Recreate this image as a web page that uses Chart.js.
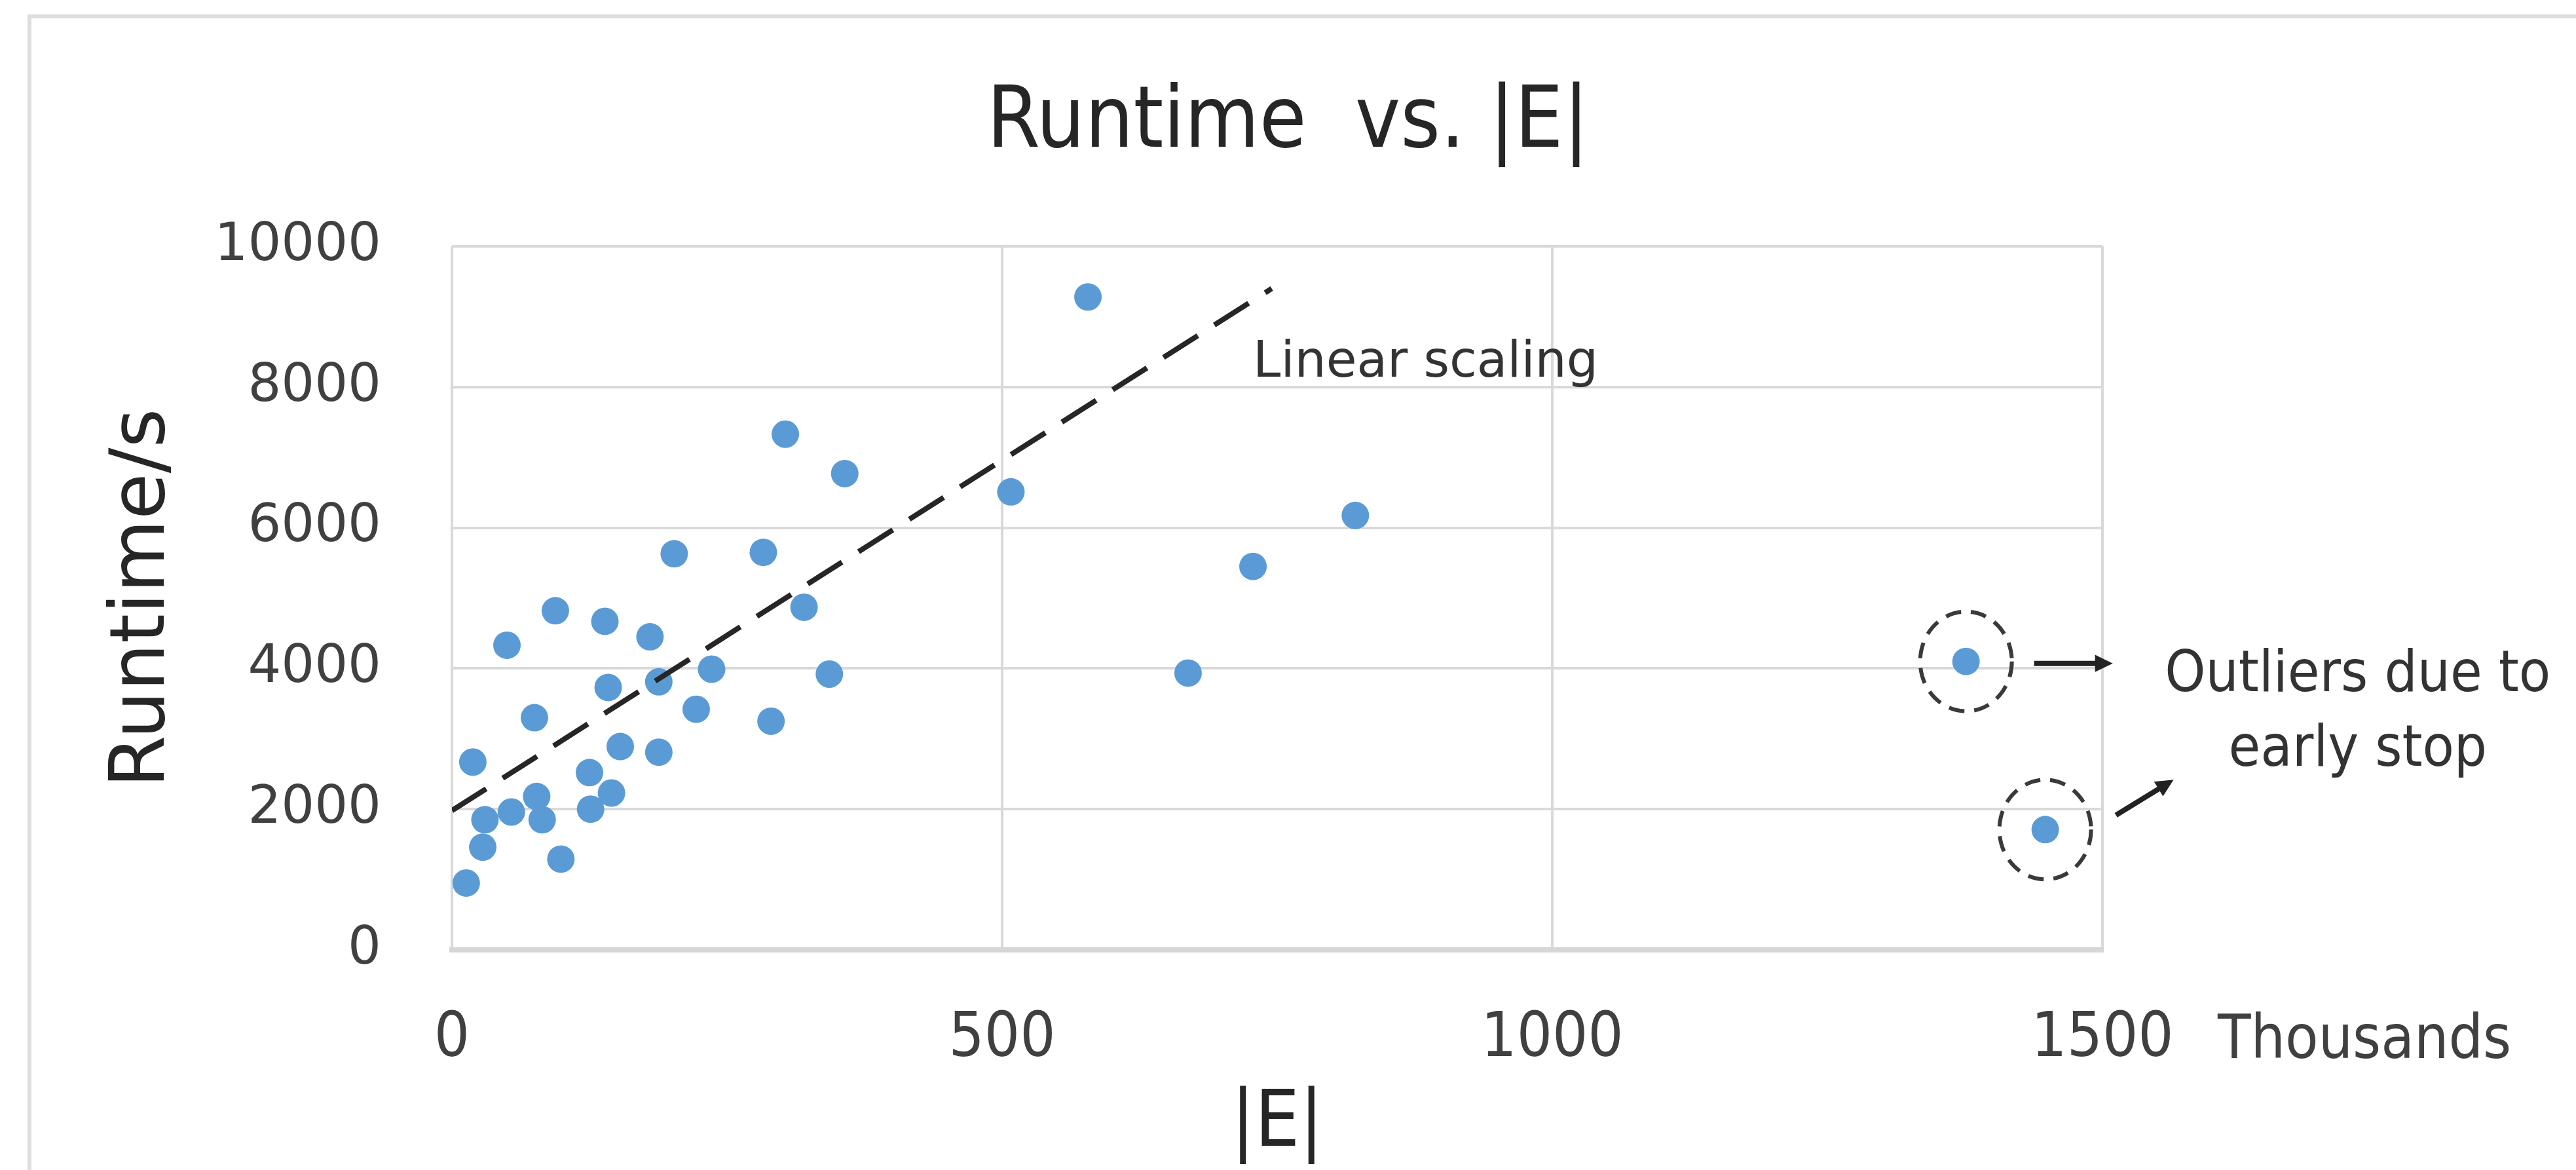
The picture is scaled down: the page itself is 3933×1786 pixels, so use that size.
<!DOCTYPE html>
<html>
<head>
<meta charset="utf-8">
<script src="https://cdn.jsdelivr.net/npm/chart.js@4.4.1/dist/chart.umd.min.js"></script>
<style>
    html, body { margin: 0; padding: 0; background: #fff; overflow: hidden; }
    #wrap { position: absolute; left: 0; top: 0; width: 3933px; height: 1786px; }
    #frame { position: absolute; left: 42px; top: 22px; right: -20px; bottom: -20px; border-left: 6px solid #dedede; border-top: 6px solid #dedede; pointer-events: none; }
</style>
</head>
<body>
<div id="wrap">
    <canvas id="chart1" width="3933" height="1786"></canvas>
    <div id="frame"></div>
</div>
<script>
// |E| in thousands, runtime in seconds
const edgesK = [578, 303, 357, 508, 821, 202, 283, 728, 94, 139, 320, 50, 180, 236, 343, 669, 142, 188, 75, 222, 290, 19, 153, 188, 125, 145, 126, 77, 82, 54, 30, 28, 99, 13]
const runtimeS = [9280, 7330, 6770, 6510, 6175, 5630, 5650, 5450, 4820, 4670, 4870, 4330, 4450, 3990, 3920, 3935, 3730, 3810, 3300, 3420, 3250, 2670, 2890, 2810, 2520, 2230, 2000, 2180, 1850, 1960, 1850, 1460, 1290, 950]

const outlierEdgesK = [1376, 1448]
const outlierRuntimeS = [4100, 1710]

const trendEdgesK = [0, 745]
const trendRuntimeS = [1980, 9400]

const xTicks = [0, 500, 1000, 1500]
const yTicks = [0, 2000, 4000, 6000, 8000, 10000]

const narrow = '"Liberation Sans Narrow", "DejaVu Sans Condensed", "Liberation Sans", sans-serif'
const wide = '"DejaVu Sans", Verdana, sans-serif'
const blue = '#5b9bd5'

const toPoints = (xs, ys) => xs.map((x, i) => ({ x, y: ys[i] }))


function drawArrow(ctx, x1, y1, x2, y2) {
    const ang = Math.atan2(y2 - y1, x2 - x1)
    const head = 30
    ctx.beginPath()
    ctx.moveTo(x1, y1)
    ctx.lineTo(x2 - Math.cos(ang) * head * 0.8, y2 - Math.sin(ang) * head * 0.8)
    ctx.stroke()
    ctx.beginPath()
    ctx.moveTo(x2, y2)
    ctx.lineTo(x2 - head * Math.cos(ang - 0.45), y2 - head * Math.sin(ang - 0.45))
    ctx.lineTo(x2 - head * Math.cos(ang + 0.45), y2 - head * Math.sin(ang + 0.45))
    ctx.closePath()
    ctx.fill()
}


const annotations = {
    id: 'annotations',
    afterDatasetsDraw(chart) {
        const { ctx, scales: { x, y }, chartArea } = chart
        ctx.save()

        // dashed rings round the outliers
        const meta = chart.getDatasetMeta(2)
        ctx.strokeStyle = '#3a3a3a'
        ctx.lineWidth = 6
        ctx.setLineDash([24, 15])
        meta.data.forEach(pt => {
            ctx.beginPath()
            ctx.ellipse(pt.x, pt.y, 70, 76, 0, 0, Math.PI * 2)
            ctx.stroke()
        })
        ctx.setLineDash([])

        // arrows
        ctx.strokeStyle = '#222'
        ctx.fillStyle = '#222'
        ctx.lineWidth = 8
        const [p1, p2] = meta.data
        drawArrow(ctx, p1.x + 104, p1.y + 3, p1.x + 224, p1.y + 3)
        drawArrow(ctx, p2.x + 108, p2.y - 22, p2.x + 196, p2.y - 76)

        // texts
        ctx.fillStyle = '#333'
        ctx.textBaseline = 'middle'
        ctx.textAlign = 'left'
        ctx.font = '76px ' + wide
        ctx.fillText('Linear scaling', x.getPixelForValue(728), y.getPixelForValue(8330))

        ctx.textAlign = 'center'
        ctx.font = '88px ' + narrow
        ctx.fillText('Outliers due to', x.getPixelForValue(1732), y.getPixelForValue(3890))
        ctx.fillText('early stop', x.getPixelForValue(1732), y.getPixelForValue(2830))

        ctx.textAlign = 'left'
        ctx.fillStyle = '#404040'
        ctx.font = '92px ' + narrow
        ctx.fillText('Thousands', x.getPixelForValue(1500) + 176, chartArea.bottom + 141)

        ctx.restore()
    }
}


const data = {
    datasets: [
        {
            type: 'line',
            data: toPoints(trendEdgesK, trendRuntimeS),
            borderColor: '#262626',
            borderWidth: 8,
            borderDash: [62, 30],
            pointRadius: 0,
            fill: false,
            order: 0
        },
        {
            data: toPoints(edgesK, runtimeS),
            backgroundColor: blue,
            borderWidth: 0,
            pointRadius: 21,
            order: 1
        },
        {
            data: toPoints(outlierEdgesK, outlierRuntimeS),
            backgroundColor: blue,
            borderWidth: 0,
            pointRadius: 21,
            order: 1
        }
    ]
}

const options = {
    responsive: false,
    animation: false,
    devicePixelRatio: 1,
    layout: {
        padding: 0
    },
    plugins: {
        legend: { display: false },
        tooltip: { enabled: false },
        title: {
            display: true,
            text: 'Runtime  vs. |E|',
            color: '#262626',
            font: { family: narrow, size: 130, weight: 'normal', lineHeight: 1 },
            padding: { top: 125, bottom: 121 }
        }
    },
    scales: {
        x: {
            type: 'linear',
            min: xTicks[0],
            max: xTicks[xTicks.length - 1],
            afterBuildTicks: s => { s.ticks = xTicks.map(v => ({ value: v })) },
            afterFit: s => { s.height = 336 },
            grid: { color: '#d9d9d9', lineWidth: 4, drawTicks: false },
            border: { color: '#d6d6d6', width: 8 },
            ticks: {
                color: '#404040',
                padding: 80,
                font: { family: narrow, size: 95, lineHeight: 1.2 },
                callback: v => String(v)
            },
            title: {
                display: true,
                text: '|E|',
                color: '#262626',
                font: { family: narrow, size: 120, lineHeight: 1 },
                padding: { top: 0, bottom: 8 }
            }
        },
        y: {
            type: 'linear',
            min: yTicks[0],
            max: yTicks[yTicks.length - 1],
            afterBuildTicks: s => { s.ticks = yTicks.map(v => ({ value: v })) },
            afterFit: s => { s.width = 690 },
            grid: { color: '#d9d9d9', lineWidth: 4, drawTicks: false },
            border: { display: false },
            ticks: {
                color: '#404040',
                padding: 108,
                font: { family: wide, size: 80, lineHeight: 1.2 },
                callback: v => String(v)
            },
            title: {
                display: true,
                text: 'Runtime/s',
                color: '#262626',
                font: { family: wide, size: 115, lineHeight: 1.2 },
                padding: { top: 151, bottom: 0 }
            }
        },
        // empty right-hand axis that only reserves the room for the outlier notes
        side: {
            type: 'linear',
            position: 'right',
            afterFit: s => { s.width = 723 },
            grid: { display: false },
            border: { display: false },
            ticks: { display: false }
        }
    }
}

new Chart('chart1', { type: 'scatter', data, options, plugins: [annotations] })
</script>
</body>
</html>
